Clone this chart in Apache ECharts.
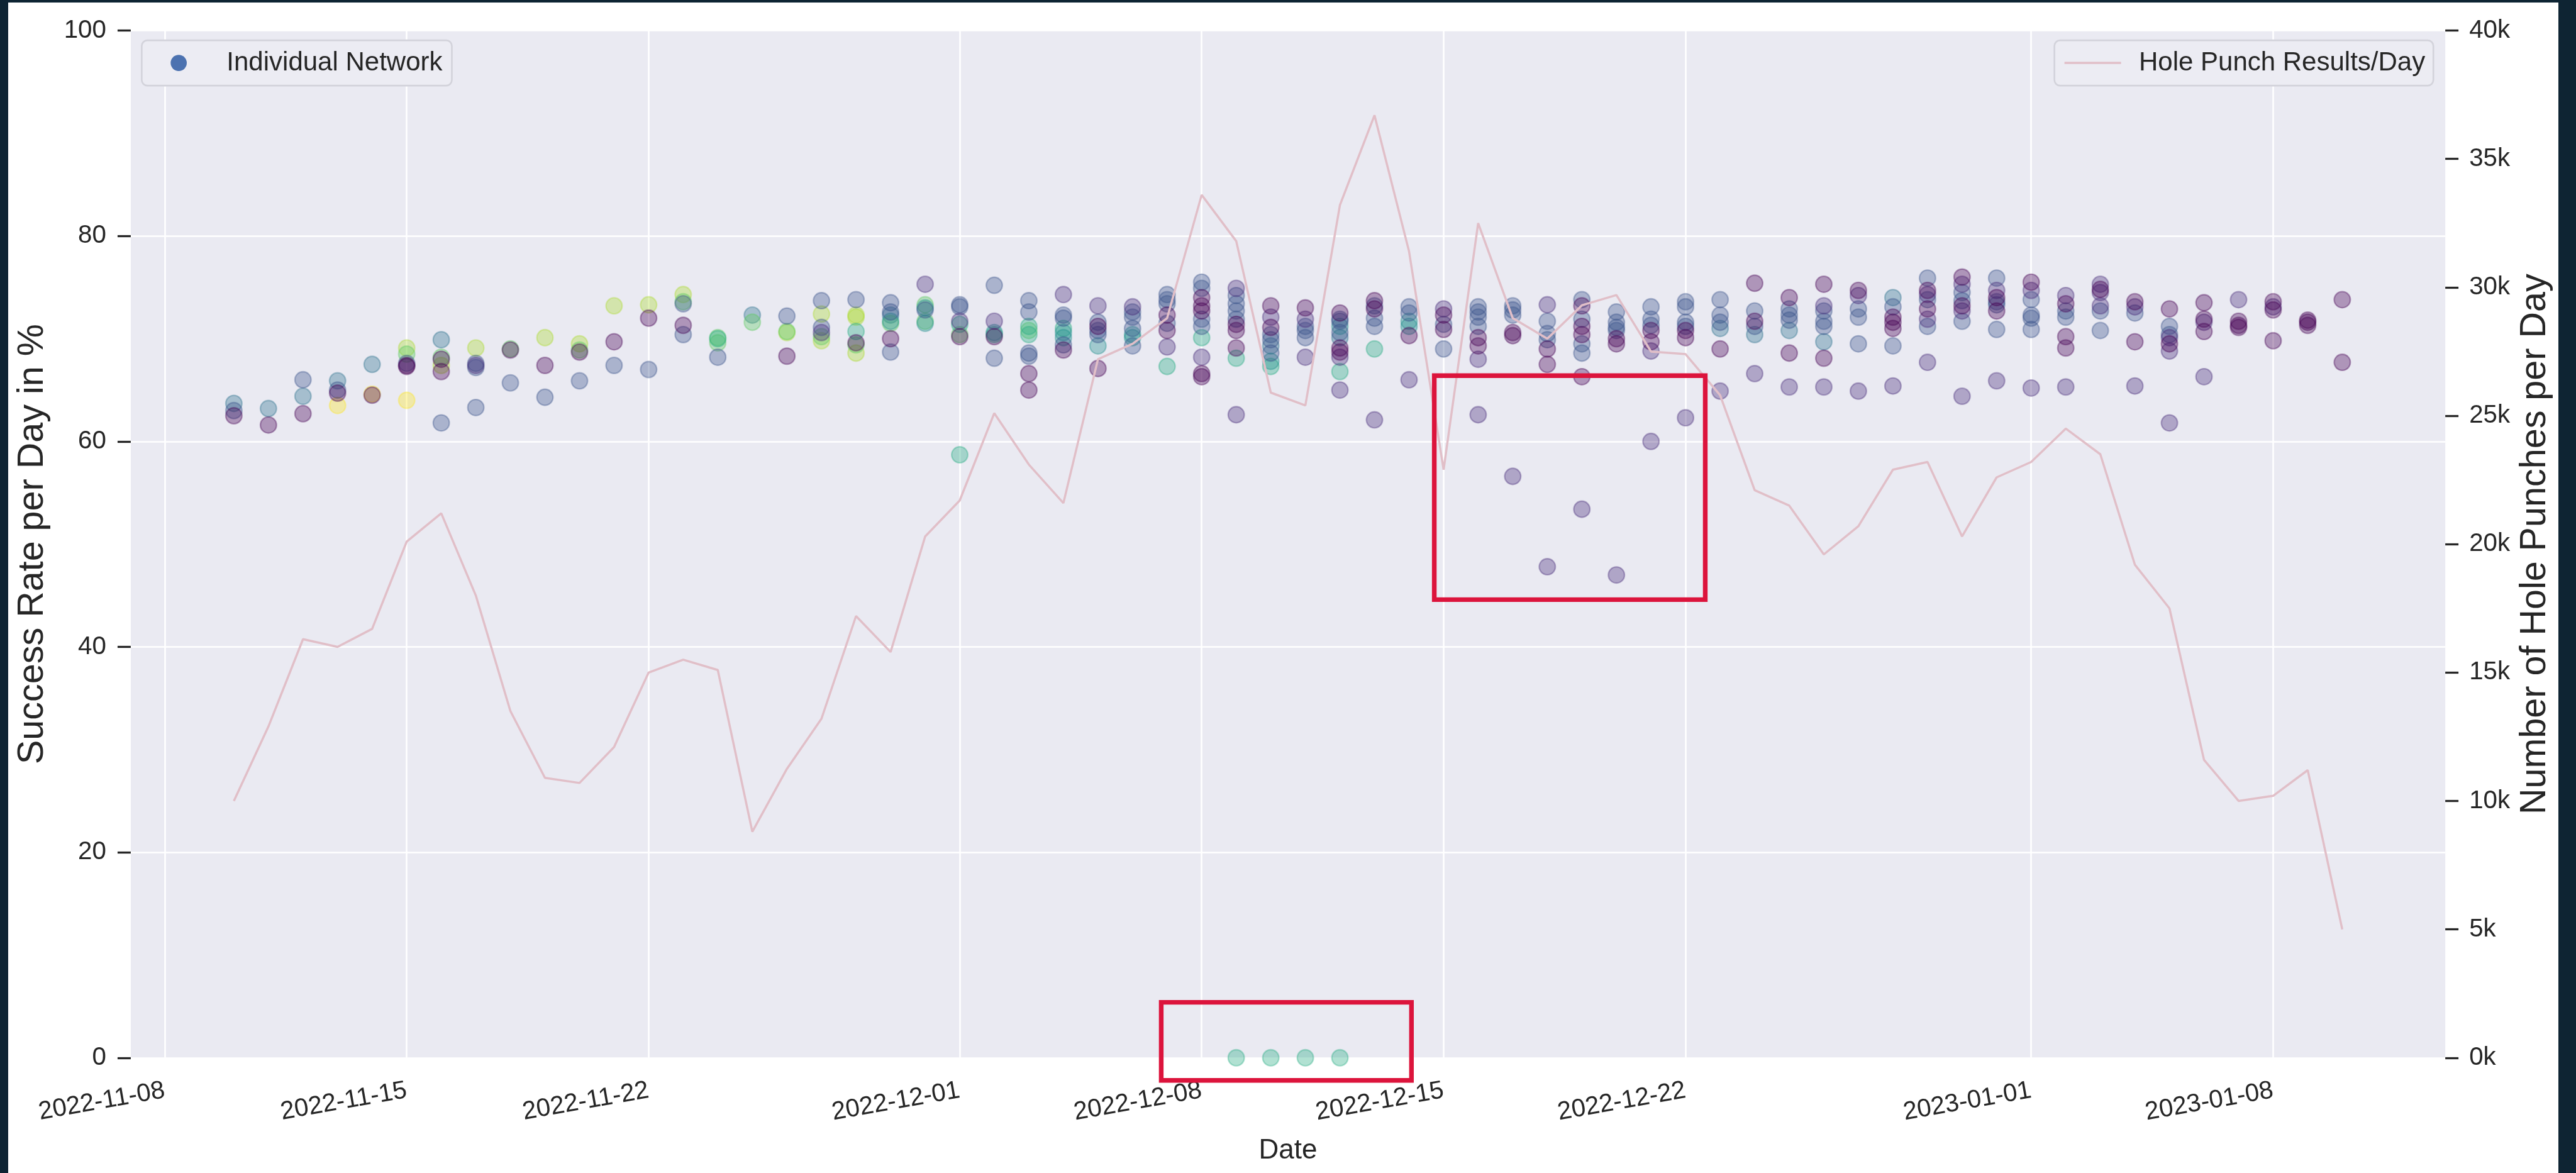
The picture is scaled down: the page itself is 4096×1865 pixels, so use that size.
<!DOCTYPE html>
<html><head><meta charset="utf-8">
<script src="https://cdn.jsdelivr.net/npm/echarts@6/dist/echarts.min.js"></script>
<style>
html,body{margin:0;padding:0;width:4096px;height:1865px;background:#0e2433;overflow:hidden}
#c{position:absolute;left:13px;top:4px;width:4055px;height:1861px;background:#fff}
</style></head><body><div id="c"></div>
<script>
// ---------------- data ----------------
const tickDates = ['2022-11-08','2022-11-15','2022-11-22','2022-12-01','2022-12-08','2022-12-15','2022-12-22','2023-01-01','2023-01-08'];

const lineDates = ['2022-11-10','2022-11-11','2022-11-12','2022-11-13','2022-11-14','2022-11-15','2022-11-16','2022-11-17','2022-11-18','2022-11-19',
  '2022-11-20','2022-11-21','2022-11-22','2022-11-23','2022-11-24','2022-11-25','2022-11-26','2022-11-27','2022-11-28','2022-11-29',
  '2022-11-30','2022-12-01','2022-12-02','2022-12-03','2022-12-04','2022-12-05','2022-12-06','2022-12-07','2022-12-08','2022-12-09',
  '2022-12-10','2022-12-11','2022-12-12','2022-12-13','2022-12-14','2022-12-15','2022-12-16','2022-12-17','2022-12-18','2022-12-19',
  '2022-12-20','2022-12-21','2022-12-22','2022-12-23','2022-12-24','2022-12-25','2022-12-26','2022-12-27','2022-12-28','2022-12-29',
  '2022-12-30','2022-12-31','2023-01-01','2023-01-02','2023-01-03','2023-01-04','2023-01-05','2023-01-06','2023-01-07','2023-01-08',
  '2023-01-09','2023-01-10'];
const holePunches = [10000,12900,16300,16000,16700,20100,21200,18000,13500,10900,
  10700,12100,15000,15500,15100,8800,11250,13200,17200,15800,
  20300,21700,25100,23100,21600,27200,27800,28800,33600,31800,
  25900,25400,33200,36700,31400,22900,32500,28800,28000,29300,
  29700,27500,27400,25800,22100,21500,19600,20700,22900,23200,
  20300,22600,23200,24500,23500,19200,17500,11600,10000,10200,
  11200,5000];

// success rate per network and day, grouped by network colour ([MM-DD, %])
const netPurple = [['11-10',62.5],['11-11',61.6],['11-12',62.7],['11-13',64.7],['11-14',64.5],['11-15',67.4],['11-15',67.3],['11-16',68.0],['11-16',66.8],
  ['11-18',68.9],['11-19',67.4],['11-20',68.7],['11-21',69.7],['11-22',72.0],['11-23',71.3],['11-26',68.3],['11-28',69.6],['11-29',70.0],
  ['12-01',70.2],['12-02',70.2],['12-03',66.6],['12-03',65.0],['12-04',68.9],['12-05',71.2],['12-05',67.1],['12-07',72.3],['12-07',70.8],
  ['12-08',74.0],['12-08',73.2],['12-08',72.7],['12-08',66.6],['12-08',66.3],['12-09',71.4],['12-09',70.8],['12-09',69.1],['12-10',73.2],['12-10',71.1],
  ['12-11',73.0],['12-12',72.5],['12-12',69.1],['12-12',68.7],['12-13',73.7],['12-13',72.9],['12-14',70.3],['12-15',72.3],['12-15',70.9],
  ['12-16',70.1],['12-16',69.3],['12-17',70.6],['12-17',70.3],['12-18',69.0],['12-18',67.5],['12-19',73.2],['12-19',71.2],['12-19',70.4],['12-19',66.3],
  ['12-20',70.0],['12-20',69.5],['12-21',70.8],['12-21',69.7],['12-22',70.8],['12-22',70.1],['12-23',69.0],['12-24',75.4],['12-24',71.7],
  ['12-25',74.0],['12-25',68.6],['12-26',75.3],['12-26',68.1],['12-27',74.7],['12-28',72.1],['12-28',71.6],['12-28',71.0],['12-29',74.7],['12-29',72.9],
  ['12-30',76.0],['12-30',73.2],['12-31',74.0],['12-31',72.7],['01-01',75.5],['01-02',73.4],['01-02',70.2],['01-02',69.1],['01-03',74.8],
  ['01-04',73.6],['01-04',69.7],['01-05',72.9],['01-05',69.5],['01-06',73.5],['01-06',71.9],['01-06',70.7],['01-07',71.7],['01-07',71.3],['01-07',71.1],
  ['01-08',73.6],['01-08',72.8],['01-08',69.8],['01-09',71.8],['01-09',71.6],['01-09',71.3],['01-10',73.8],['01-10',67.7]];
const netViolet = [['11-17',67.4],['11-27',70.6],['11-30',75.3],['12-01',71.7],['12-02',71.7],['12-04',74.3],['12-05',73.2],['12-06',73.1],['12-07',69.2],
  ['12-08',68.2],['12-09',74.9],['12-09',62.6],['12-10',72.1],['12-11',71.9],['12-11',68.2],['12-12',68.2],['12-12',65.0],['12-13',62.1],['12-14',66.0],
  ['12-15',72.9],['12-16',68.0],['12-16',62.6],['12-17',56.6],['12-18',73.3],['12-18',47.8],['12-19',53.4],['12-20',47.0],['12-21',68.8],['12-21',60.0],
  ['12-22',62.3],['12-23',64.9],['12-24',66.6],['12-25',65.3],['12-26',73.2],['12-26',65.3],['12-27',74.2],['12-27',64.9],['12-28',65.4],
  ['12-29',74.3],['12-29',71.9],['12-29',67.7],['12-30',75.3],['12-30',72.7],['12-30',64.4],['12-31',74.7],['12-31',65.9],['01-01',74.7],['01-01',65.2],
  ['01-02',74.2],['01-02',65.3],['01-03',75.3],['01-03',74.5],['01-03',73.2],['01-04',73.1],['01-04',65.4],['01-05',70.1],['01-05',68.8],['01-05',61.8],
  ['01-06',71.6],['01-06',66.3],['01-07',73.8],['01-08',73.1]];
const netBlue = [['11-10',63.0],['11-12',66.0],['11-13',65.0],['11-15',67.6],['11-16',61.8],['11-17',67.6],['11-17',67.2],['11-17',63.3],['11-18',65.7],
  ['11-19',64.3],['11-20',65.9],['11-21',67.4],['11-22',67.0],['11-23',73.4],['11-23',70.4],['11-24',68.2],['11-26',72.2],['11-27',73.7],['11-27',71.1],
  ['11-28',73.8],['11-29',73.5],['11-29',72.6],['11-29',68.7],['11-30',72.8],['12-01',73.3],['12-01',73.1],['12-02',75.2],['12-02',68.1],
  ['12-03',73.7],['12-03',72.6],['12-03',68.6],['12-03',68.3],['12-04',72.3],['12-04',72.0],['12-04',69.4],['12-05',71.6],['12-05',70.8],['12-05',70.4],
  ['12-06',72.6],['12-06',72.1],['12-06',71.0],['12-06',69.3],['12-07',74.3],['12-07',73.8],['12-07',73.4],['12-07',71.5],
  ['12-08',75.5],['12-08',74.9],['12-08',71.9],['12-08',71.2],['12-09',74.2],['12-09',73.4],['12-09',72.7],['12-09',71.9],
  ['12-10',70.4],['12-10',69.9],['12-10',68.6],['12-11',71.2],['12-11',70.8],['12-11',70.1],['12-12',71.9],['12-12',71.7],['12-12',70.6],
  ['12-13',73.2],['12-13',72.0],['12-13',71.2],['12-14',73.1],['12-14',72.5],['12-15',71.4],['12-15',69.0],
  ['12-16',73.1],['12-16',72.6],['12-16',72.1],['12-16',71.2],['12-17',73.2],['12-17',72.8],['12-17',72.3],['12-18',71.7],['12-18',70.5],['12-18',69.9],
  ['12-19',73.8],['12-19',71.9],['12-19',69.5],['12-19',68.6],['12-20',72.6],['12-20',71.6],['12-20',71.1],['12-20',70.8],['12-21',73.1],['12-21',71.9],['12-21',71.3],
  ['12-22',73.6],['12-22',73.1],['12-22',71.6],['12-22',71.2],['12-23',73.8],['12-23',72.3],['12-23',71.6],['12-24',72.7],['12-24',71.2],
  ['12-25',72.9],['12-25',72.3],['12-25',71.8],['12-26',72.7],['12-26',71.7],['12-26',71.2],['12-27',72.9],['12-27',72.1],['12-27',69.5],
  ['12-28',73.1],['12-28',69.3],['12-29',75.9],['12-29',73.8],['12-29',71.2],['12-30',74.5],['12-30',73.7],['12-30',71.7],
  ['12-31',75.9],['12-31',73.6],['12-31',73.3],['12-31',70.9],['01-01',73.8],['01-01',72.3],['01-01',72.0],['01-01',70.9],
  ['01-02',72.7],['01-02',72.1],['01-03',72.7],['01-03',70.8],['01-04',72.5],['01-05',71.2],['01-05',70.4]];
const netSteel = [['11-10',63.7],['11-11',63.2],['11-12',64.4],['11-13',65.9],['11-14',67.5],['11-16',69.9],['11-25',72.3],['11-29',72.3],
  ['12-10',69.3],['12-12',70.1],['12-23',71.0],['12-24',70.4],['12-25',70.8],['12-26',69.7],['12-28',74.0]];
const netTeal = [['11-29',71.7],['11-30',73.0],['11-30',71.5],['12-02',70.6],['12-04',70.6],['12-04',70.1],['12-05',69.3],['12-06',70.4],['12-06',70.1],
  ['12-10',67.8],['12-12',71.2],['12-14',71.7],['12-14',71.2]];
const netAqua = [['11-24',70.0],['11-28',70.7],['12-01',71.4],['12-01',58.7],['12-02',70.4],['12-03',71.2],['12-03',70.4],['12-04',71.0],['12-07',67.3],
  ['12-08',70.1],['12-09',68.1],['12-09',0],['12-10',67.3],['12-10',0],['12-11',0],['12-12',66.8],['12-12',0],['12-13',69.0]];
const netGreen = [['11-15',68.5],['11-16',68.2],['11-18',69.0],['11-20',68.9],['11-23',73.6],['11-24',70.1],['11-24',69.6],['11-25',71.6],['11-26',70.7],
  ['11-27',70.2],['11-28',69.4],['11-29',71.5],['11-30',73.3],['11-30',71.7],['12-01',70.4],['12-03',70.8]];
const netLime = [['11-15',69.1],['11-16',67.4],['11-17',69.1],['11-19',70.1],['11-20',69.5],['11-21',73.2],['11-22',73.3],['11-23',74.3],['11-26',70.6],
  ['11-27',72.4],['11-27',69.8],['11-28',72.3],['11-28',72.1],['11-28',68.6]];
const netYellow = [['11-13',63.5],['11-14',64.6],['11-15',64.0]];

// ---------------- helpers ----------------
const DAY = 86400000;
function ts(s){ const p = s.split('-').map(Number); return Date.UTC(p[0], p[1]-1, p[2]); }
function md(s){ const p = s.split('-').map(Number); return Date.UTC(p[0] >= 11 ? 2022 : 2023, p[0]-1, p[1]); }
function pad(n){ return (n < 10 ? '0' : '') + n; }
function fmt(v){ const d = new Date(v); return d.getUTCFullYear() + '-' + pad(d.getUTCMonth()+1) + '-' + pad(d.getUTCDate()); }

const S = 0.916;
const W = 4055;   // width of the white figure area
const FONT = '"Liberation Sans", Arial, sans-serif';
const TXT = '#262626';
const LINE_COL = '#e1bfc8';
const groups = [
  [netSteel,'#2c728e'],[netYellow,'#fde725'],[netLime,'#addc30'],[netGreen,'#5ec962'],[netAqua,'#27ad81'],
  [netTeal,'#21918c'],[netBlue,'#3b528b'],[netViolet,'#472c7a'],[netPurple,'#440154']
];

const scatterSeries = groups.map(([arr, col]) => ({
  type: 'scatter', name: 'Individual Network', z: 3,
  data: arr.map(p => [md(p[0]), p[1]]),
  symbolSize: 28*S,
  itemStyle: { color: col, opacity: 0.36, borderColor: col, borderWidth: 2.6*S },
  emphasis: { disabled: true }, silent: true
}));

const chart = echarts.init(document.getElementById('c'), null, { renderer: 'canvas' });
const tickVals = tickDates.map(ts);

chart.setOption({
  animation: false,
  backgroundColor: '#ffffff',
  textStyle: { fontFamily: FONT },
  grid: { left: 227*S-13, top: 53*S-4, width: (4245-227)*S, height: (1836-53)*S,
          show: true, backgroundColor: '#eaeaf2', borderWidth: 0, containLabel: false },
  legend: [
    { left: 246*S-13, top: 70*S-4, orient: 'horizontal', padding: [15, 15, 15, 46],
      data: [{ name: 'Individual Network', icon: 'circle', itemStyle: { color: '#4c72b0', opacity: 1, borderWidth: 0 } }],
      itemWidth: 28*S, itemHeight: 28*S, selectedMode: false,
      formatter: '     {name}',
      textStyle: { fontSize: 42, color: TXT, fontFamily: FONT },
      backgroundColor: '#ececf3', borderColor: '#d3d3db', borderWidth: 2.6, borderRadius: 9 },
    { right: W - (4224*S-13), top: 70*S-4, orient: 'horizontal', padding: [15, 13, 15, 16],
      data: [{ name: 'Hole Punch Results/Day', icon: 'rect', itemStyle: { color: LINE_COL, opacity: 1, borderWidth: 0 } }],
      itemWidth: 90, itemHeight: 3.5, selectedMode: false,
      formatter: '  {name}',
      textStyle: { fontSize: 42, color: TXT, fontFamily: FONT },
      backgroundColor: '#ececf3', borderColor: '#d3d3db', borderWidth: 2.6, borderRadius: 9 }
  ],
  xAxis: {
    type: 'value', min: ts('2022-11-08') - 0.983*DAY, max: ts('2023-01-08') + 4.98*DAY,
    name: 'Date', nameLocation: 'middle', nameGap: 126,
    nameTextStyle: { fontSize: 48*S, color: TXT, fontFamily: FONT },
    axisLine: { show: false },
    axisTick: { show: false, customValues: tickVals },
    axisLabel: { customValues: tickVals, formatter: fmt, rotate: 10, margin: 52,
                 fontSize: 44*S, color: TXT, fontFamily: FONT },
    splitLine: { show: true, lineStyle: { color: '#ffffff', width: 2.6 } }
  },
  yAxis: [
    { type: 'value', min: 0, max: 100, interval: 20, position: 'left',
      name: 'Success Rate per Day in %', nameLocation: 'middle', nameGap: 127,
      nameTextStyle: { fontSize: 57.5, color: TXT, fontFamily: FONT },
      axisLine: { show: false },
      axisTick: { show: true, length: 21, lineStyle: { color: TXT, width: 3.3 } },
      axisLabel: { fontSize: 44*S, color: TXT, margin: 39, fontFamily: FONT },
      splitLine: { show: true, lineStyle: { color: '#ffffff', width: 2.6 } } },
    { type: 'value', min: 0, max: 40000, interval: 5000, position: 'right',
      name: 'Number of Hole Punches per Day', nameLocation: 'middle', nameGap: 112,
      nameTextStyle: { fontSize: 57.5, color: TXT, fontFamily: FONT },
      axisLine: { show: false },
      axisTick: { show: true, length: 21, lineStyle: { color: TXT, width: 3.3 } },
      axisLabel: { fontSize: 44*S, color: TXT, margin: 38, fontFamily: FONT,
                   formatter: v => (v/1000) + 'k' },
      splitLine: { show: false } }
  ],
  series: scatterSeries.concat([{
    type: 'line', name: 'Hole Punch Results/Day', yAxisIndex: 1, z: 5,
    data: lineDates.map((d, i) => [ts(d), holePunches[i]]),
    symbol: 'none', showSymbol: false,
    lineStyle: { color: LINE_COL, width: 3.5 }, itemStyle: { color: LINE_COL },
    emphasis: { disabled: true }, silent: true
  }])
});

// annotation boxes (data coordinates -> pixels via the chart's own scales)
const boxes = [
  { x0: ts('2022-12-06') + 0.83*DAY, x1: ts('2022-12-14') + 0.07*DAY, y0: -2.2, y1: 5.4 },
  { x0: ts('2022-12-14') + 0.73*DAY, x1: ts('2022-12-22') + 0.57*DAY, y0: 44.6, y1: 66.4 }
];
const rects = boxes.map(b => {
  const a = chart.convertToPixel({ xAxisIndex: 0, yAxisIndex: 0 }, [b.x0, b.y1]);
  const c = chart.convertToPixel({ xAxisIndex: 0, yAxisIndex: 0 }, [b.x1, b.y0]);
  return { type: 'rect', z: 100, silent: true,
           shape: { x: a[0], y: a[1], width: c[0]-a[0], height: c[1]-a[1] },
           style: { fill: 'none', stroke: '#dc143c', lineWidth: 7.4 } };
});
chart.setOption({ graphic: rects });
</script></body></html>
